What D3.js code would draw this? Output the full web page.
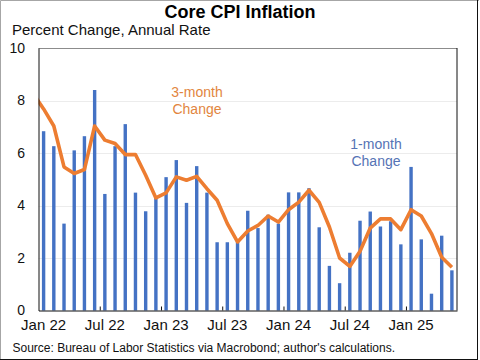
<!DOCTYPE html>
<html>
<head>
<meta charset="utf-8">
<script src="https://cdn.jsdelivr.net/npm/d3@7"></script>
<style>
  html, body { margin: 0; padding: 0; background: #fff; }
  svg { display: block; font-family: "Liberation Sans", Arial, sans-serif; }
</style>
</head>
<body>
<svg id="chart" width="480" height="360"></svg>
<script>
// ---- data ----
const months = [
  "Jan 22","Feb 22","Mar 22","Apr 22","May 22","Jun 22","Jul 22","Aug 22","Sep 22","Oct 22","Nov 22","Dec 22",
  "Jan 23","Feb 23","Mar 23","Apr 23","May 23","Jun 23","Jul 23","Aug 23","Sep 23","Oct 23","Nov 23","Dec 23",
  "Jan 24","Feb 24","Mar 24","Apr 24","May 24","Jun 24","Jul 24","Aug 24","Sep 24","Oct 24","Nov 24","Dec 24",
  "Jan 25","Feb 25","Mar 25","Apr 25","May 25"
];
const oneMonth = [
  6.83, 6.26, 3.31, 6.10, 6.64, 8.40, 4.44, 6.26, 7.10, 4.49, 3.78, 4.33,
  5.08, 5.73, 4.10, 5.50, 4.49, 2.60, 2.60, 2.65, 3.80, 3.14, 3.65, 3.31,
  4.50, 4.50, 4.66, 3.17, 1.70, 1.04, 2.20, 3.42, 3.77, 3.20, 3.40, 2.52,
  5.47, 2.71, 0.64, 2.85, 1.53
];
// 3-month series begins one month before the window (Dec 21), clipped at the frame
const threeMonthStart = "Dec 21";
const threeMonth = [
  8.25,
  7.68, 7.03, 5.47, 5.22, 5.37, 7.03, 6.49, 6.36, 5.94, 5.94, 5.15, 4.29,
  4.48, 5.09, 4.96, 5.11, 4.64, 4.20, 3.31, 2.61, 3.03, 3.24, 3.60, 3.37,
  3.84, 4.13, 4.58, 4.12, 3.18, 2.00, 1.68, 2.26, 3.14, 3.49, 3.49, 3.08,
  3.84, 3.60, 2.93, 2.03, 1.65
];
const yTicks = [0, 2, 4, 6, 8, 10];
const xLabelMonths = ["Jan 22","Jul 22","Jan 23","Jul 23","Jan 24","Jul 24","Jan 25"];

// ---- layout ----
const svg = d3.select("#chart");
const L = 38.5, R = 457, T = 48, B = 310.5;
const blue = "#4472C4", orange = "#ED7D31";

// outer border
svg.append("line").attr("x1", 0.5).attr("x2", 479).attr("y1", 0.5).attr("y2", 0.5).attr("stroke", "#a6a6a6");
svg.append("line").attr("x1", 0.5).attr("x2", 0.5).attr("y1", 0.5).attr("y2", 359).attr("stroke", "#a6a6a6");
svg.append("line").attr("x1", 477.5).attr("x2", 477.5).attr("y1", 0).attr("y2", 359.5).attr("stroke", "#111");
svg.append("line").attr("x1", 0).attr("x2", 478).attr("y1", 359.5).attr("y2", 359.5).attr("stroke", "#111");

// scales: month index -> x (band centres)
const xi = d3.scaleLinear().domain([-0.5, months.length - 0.5]).range([L, R]);
const y = d3.scaleLinear().domain([0, 10]).range([B, T]);
const bw = 3.4;

// gridlines
svg.append("g").selectAll("line").data(yTicks.filter(v => v > 0 && v < 10)).join("line")
  .attr("x1", L).attr("x2", R).attr("y1", d => Math.round(y(d)) + 0.5).attr("y2", d => Math.round(y(d)) + 0.5)
  .attr("stroke", "#ececec").attr("stroke-width", 1);

// bars
svg.append("g").selectAll("rect").data(months).join("rect")
  .attr("x", (d, i) => xi(i) - bw / 2)
  .attr("width", bw)
  .attr("y", (d, i) => y(oneMonth[i]))
  .attr("height", (d, i) => y(0) - y(oneMonth[i]))
  .attr("fill", blue);

// line (clipped to plot area)
svg.append("clipPath").attr("id", "plotclip").append("rect")
  .attr("x", L).attr("y", T).attr("width", R - L).attr("height", B - T);
const line = d3.line()
  .x((d, i) => xi(i - 1))
  .y(d => y(d));
svg.append("path").datum(threeMonth)
  .attr("clip-path", "url(#plotclip)")
  .attr("d", line)
  .attr("fill", "none").attr("stroke", orange).attr("stroke-width", 3.6)
  .attr("stroke-linejoin", "round").attr("stroke-linecap", "butt");

// plot frame: top gray, right black
svg.append("line").attr("x1", L).attr("x2", R).attr("y1", T + 0.5).attr("y2", T + 0.5).attr("stroke", "#8c8c8c");
svg.append("line").attr("x1", R).attr("x2", R).attr("y1", T).attr("y2", B).attr("stroke", "#111");

// y axis
const yAxis = d3.axisLeft(y).tickValues(yTicks).tickSize(0).tickPadding(13.5).tickFormat(d3.format("d"));
const gy = svg.append("g").attr("transform", `translate(${L},0)`).call(yAxis);
gy.select(".domain").attr("stroke", "#111");
gy.selectAll("text").attr("font-size", 14).attr("fill", "#111").attr("font-family", "Liberation Sans, Arial, sans-serif");

// x axis: labels at band centres of Jan/Jul
const xLab = d3.scaleBand().domain(months).range([L, R]);
const xAxis = d3.axisBottom(xLab).tickValues(xLabelMonths).tickSize(0).tickPadding(9);
const gx = svg.append("g").attr("transform", `translate(0,${B})`).call(xAxis);
gx.select(".domain").attr("stroke", "#111");
gx.selectAll("text").attr("font-size", 15).attr("fill", "#111").attr("font-family", "Liberation Sans, Arial, sans-serif");

// inner tick marks at the boundaries of Jan/Jul
const xb = d3.scaleLinear().domain([0, months.length]).range([L, R]);
const gt = svg.append("g").attr("transform", `translate(0,${B})`)
  .call(d3.axisBottom(xb).tickValues(d3.range(6, months.length, 6)).tickSize(-4).tickFormat(""));
gt.select(".domain").remove();
gt.selectAll("line").attr("stroke", "#111");

// texts
svg.append("text").attr("x", 240).attr("y", 18).attr("text-anchor", "middle")
  .attr("font-size", 18).attr("font-weight", "bold").attr("fill", "#000")
  .text("Core CPI Inflation");
svg.append("text").attr("x", 12).attr("y", 35)
  .attr("font-size", 15).attr("fill", "#111")
  .text("Percent Change, Annual Rate");
svg.append("text").attr("x", 12.5).attr("y", 352)
  .attr("font-size", 12).attr("fill", "#111")
  .text("Source: Bureau of Labor Statistics via Macrobond; author's calculations.");

// series annotations
const ann3 = svg.append("text").attr("text-anchor", "middle").attr("font-size", 14).attr("fill", "#E2853E");
ann3.append("tspan").attr("x", 197).attr("y", 97).text("3-month");
ann3.append("tspan").attr("x", 197).attr("y", 113.5).text("Change");
const ann1 = svg.append("text").attr("text-anchor", "middle").attr("font-size", 14).attr("fill", "#5573B5");
ann1.append("tspan").attr("x", 376).attr("y", 149).text("1-month");
ann1.append("tspan").attr("x", 376).attr("y", 166).text("Change");
</script>
</body>
</html>
